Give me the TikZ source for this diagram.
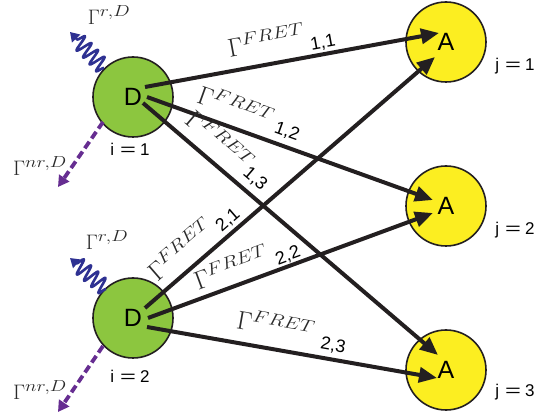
\documentclass[tikz,border=0pt]{standalone}
\usepackage{fix-cm}
\usepackage[no-math]{fontspec}
\usepackage{graphicx}
\newfontfamily\arialfont{Liberation Sans}
\usetikzlibrary{arrows.meta,calc,decorations.pathmorphing}
\definecolor{donor}{HTML}{8CC63F}
\definecolor{acceptor}{HTML}{FCEE21}
\definecolor{ink}{HTML}{231F20}
\definecolor{radblue}{HTML}{2E3192}
\definecolor{nrpurple}{HTML}{662D91}
\definecolor{labelgray}{HTML}{2A2A2A}

% rate labels: large symbol with a fairly large superscript
\DeclareMathSizes{26}{26}{17}{13}
\DeclareMathSizes{21}{21}{16}{12}

% site index such as "i = 1", with a wide equals sign
\newcommand{\siteeq}[2]{#1\hspace{6pt}\scalebox{1.6}[1]{=}\hspace{4pt}#2}
% rate symbol with a widened superscript
\newcommand{\rate}[1]{$\Gamma^{\scalebox{1.22}[1]{$\scriptstyle #1$}}$}

\begin{document}
\begin{tikzpicture}[x=1pt,y=-1pt,
  dye/.style={circle, draw=ink, line width=1.6pt, minimum size=80pt, inner sep=0pt,
    font=\arialfont\fontsize{25}{25}\selectfont},
  donorbox/.style={dye, fill=donor},
  acceptorbox/.style={dye, fill=acceptor},
  idxlabel/.style={inner sep=0pt, font=\arialfont\fontsize{18}{18}\selectfont},
  sitelabel/.style={inner sep=0pt, font=\arialfont\fontsize{17}{17}\selectfont},
  gam/.style={inner sep=0pt, text=labelgray, font=\fontsize{26}{28}\selectfont},
  gamsmall/.style={inner sep=0pt, text=labelgray, font=\fontsize{21}{23}\selectfont},
  fret/.style={draw=ink, line width=4pt, -{Triangle[length=18pt,width=15pt]}},
  radiative/.style={draw=radblue, line width=2.6pt, line join=round,
    -{Triangle[length=9pt,width=11pt]},
    decorate, decoration={snake, amplitude=8pt, segment length=9.5pt, post length=7pt}},
  nonradiative/.style={draw=nrpurple, line width=3.8pt, dash pattern=on 8pt off 4pt,
    -{Triangle[length=11pt,width=12pt]}},
]
\useasboundingbox (0,0) rectangle (542,417);

% donors and acceptors
\node[donorbox] (D1) at (133,97) {D};
\node[donorbox] (D2) at (133,318) {D};
\node[acceptorbox] (A1) at (446,42) {A};
\node[acceptorbox] (A2) at (446,206) {A};
\node[acceptorbox] (A3) at (446,370) {A};

\node[sitelabel] (i1) at (130,149) {\siteeq{i}{1}};
\node[sitelabel] (i2) at (130,376) {\siteeq{i}{2}};
\node[sitelabel] (j1) at (515,66) {\siteeq{j}{1}};
\node[sitelabel] (j2) at (515,230) {\siteeq{j}{2}};
\node[sitelabel] (j3) at (515,392) {\siteeq{j}{3}};

% radiative and non-radiative decay of the donors
\coordinate (r1) at ($(D1)+(-29,-29)$);
\coordinate (r1end) at ($(D1)+(-63,-65)$);
\draw[radiative] (r1) -- (r1end);
\coordinate (n1) at ($(D1)+(-30,25)$);
\coordinate (n1end) at ($(D1)+(-75,90)$);
\draw[nonradiative] (n1) -- (n1end);
\node[gamsmall] (gr1) at (109,15) {\rate{r,D}};
\node[gamsmall] (gn1) at (40,166) {\rate{nr,D}};

\coordinate (r2) at ($(D2)+(-27,-29)$);
\coordinate (r2end) at ($(D2)+(-63,-60)$);
\draw[radiative] (r2) -- (r2end);
\coordinate (n2) at ($(D2)+(-30,28)$);
\coordinate (n2end) at ($(D2)+(-75,94)$);
\draw[nonradiative] (n2) -- (n2end);
\node[gamsmall] (gr2) at (107,240) {\rate{r,D}};
\node[gamsmall] (gn2) at (40,390) {\rate{nr,D}};

% energy transfer channels
\draw[fret] ($(D1)+(12,-10)$) -- ($(A1)+(-7,-9)$);
\draw[fret] ($(D1)+(14,0)$) -- ($(A2)+(-13,-6)$);
\draw[fret] ($(D1)+(10,6)$) -- ($(A3)+(-8,-15)$);
\draw[fret] ($(D2)+(12,-10)$) -- ($(A1)+(-11,15)$);
\draw[fret] ($(D2)+(15,0)$) -- ($(A2)+(-13,7)$);
\draw[fret] ($(D2)+(14,9)$) -- ($(A3)+(-9,8)$);

% transfer rate labels
\node[gam, rotate=10.4] (g11) at (266,40) {\rate{FRET}};
\node[idxlabel, rotate=10.4] (k11) at (323,43) {1,1};
\node[gam, rotate=-19.8] (g12) at (236,106) {\rate{FRET}};
\node[idxlabel, rotate=-19.8] (k12) at (287,132) {1,2};
\node[gam, rotate=-40.5] (g13) at (220,140) {\rate{FRET}};
\node[idxlabel, rotate=-40.5] (k13) at (255,179) {1,3};
\node[gam, rotate=40.9] (g21) at (180,249) {\rate{FRET}};
\node[idxlabel, rotate=40.9] (k21) at (228,220) {2,1};
\node[gam, rotate=20.2] (g22) at (231,267) {\rate{FRET}};
\node[idxlabel, rotate=20.2] (k22) at (288,256) {2,2};
\node[gam, rotate=-10] (g23) at (276,325) {\rate{FRET}};
\node[idxlabel, rotate=-10] (k23) at (333,346) {2,3};
\end{tikzpicture}
\end{document}
